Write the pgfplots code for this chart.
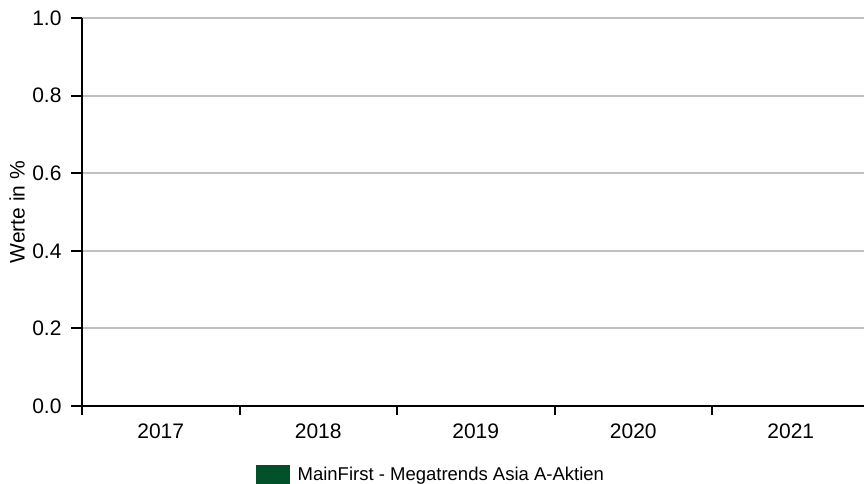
\documentclass[border=0pt]{standalone}
\usepackage{fontspec}
\setmainfont{Liberation Sans}
\usepackage{pgfplots}
\pgfplotsset{compat=1.18}
\definecolor{fundgreen}{RGB}{0,81,42}
\definecolor{gridgray}{RGB}{192,192,192}
\begin{document}
\begin{tikzpicture}
\begin{axis}[
    at={(0,0)}, anchor=south west,
    scale only axis,
    width=787.5pt, height=388pt,
    xmin=-0.5, xmax=4.5,
    ymin=0, ymax=1,
    axis x line=bottom, axis y line=left,
    axis line style={-, line width=2pt, black},
    xtick={0,1,2,3,4},
    xticklabels={2017,2018,2019,2020,2021},
    minor xtick={-0.5,0.5,1.5,2.5,3.5,4.5},
    ytick={0,0.2,0.4,0.6,0.8,1.0},
    tick label style={font=\fontsize{21}{24}\selectfont},
    y tick label style={xshift=-6pt,
        /pgf/number format/.cd, fixed, fixed zerofill, precision=1},
    /pgf/number format/assume math mode=true,
    tick align=outside,
    x tick style={draw=none},
    minor x tick style={draw=black, line width=2pt},
    minor tick length=9pt,
    y tick style={black, line width=2pt},
    major tick length=11pt,
    ymajorgrids,
    y grid style={gridgray, line width=2pt},
    xticklabel style={yshift=-3pt},
    legend style={draw=none, fill=none, inner sep=0pt, anchor=west,
        at={(axis description cs:0.221,-0.1778)},
        nodes={inner sep=0pt, font=\fontsize{18.5}{21}\selectfont},
        /tikz/every odd column/.append style={column sep=8pt}},
    legend cell align=left,
]
\addlegendimage{legend image code/.code={\fill[fundgreen] (0pt,-10pt) rectangle (33pt,10pt);}}
\addlegendentry{MainFirst - Megatrends Asia A-Aktien}
\end{axis}
\node[rotate=90, font=\fontsize{21}{24}\selectfont] at (-65pt,194pt) {Werte in \%};
\pgfresetboundingbox
\useasboundingbox (-82pt,-77pt) rectangle (782pt,406pt);
\end{tikzpicture}
\end{document}
